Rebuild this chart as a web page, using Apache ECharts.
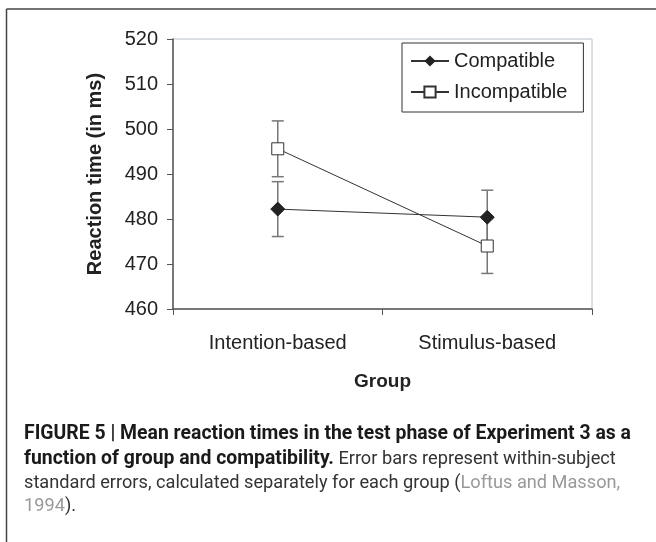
<!DOCTYPE html>
<html>
<head>
<meta charset="utf-8">
<script src="https://cdn.jsdelivr.net/npm/echarts@6/dist/echarts.min.js"></script>
<style>
html,body{margin:0;padding:0;background:#fff;}
#chart{width:656px;height:542px;}
</style>
</head>
<body>
<div id="chart"></div>
<script>
var categories = ['Intention-based', 'Stimulus-based'];
var seriesNames = ['Compatible', 'Incompatible'];
var compatible = [482.2, 480.4];
var incompatible = [495.6, 474.0];
var compatibleErr = [6.1, 6.0];
var incompatibleErr = [6.2, 6.1];
var yTicks = [460, 470, 480, 490, 500, 510, 520];

var chart = echarts.init(document.getElementById('chart'));

function errData(vals, errs) {
  return vals.map(function (v, i) { return [i, v - errs[i], v + errs[i]]; });
}

function renderErr(params, api) {
  var x = api.value(0);
  var lo = api.coord([x, api.value(1)]);
  var hi = api.coord([x, api.value(2)]);
  var hw = 6;
  var st = { stroke: '#777', lineWidth: 1.5 };
  return {
    type: 'group',
    children: [
      { type: 'line', shape: { x1: lo[0], y1: lo[1], x2: hi[0], y2: hi[1] }, style: st },
      { type: 'line', shape: { x1: lo[0] - hw, y1: lo[1], x2: lo[0] + hw, y2: lo[1] }, style: st },
      { type: 'line', shape: { x1: hi[0] - hw, y1: hi[1], x2: hi[0] + hw, y2: hi[1] }, style: st }
    ]
  };
}

var axFont = "'Liberation Sans', Arial, sans-serif";
var capFont = "Roboto, 'Liberation Sans', sans-serif";
var bSize = 19.4, nSize = 18.2;

var option = {
  animation: false,
  backgroundColor: '#fff',
  grid: { left: 173, top: 39, width: 419, height: 270, show: true, borderColor: '#b8c0c8', borderWidth: 1 },
  legend: {
    orient: 'vertical',
    left: 402, top: 43,
    width: 182,
    padding: [8, 16, 10, 8],
    itemGap: 11,
    itemWidth: 38, itemHeight: 14,
    borderColor: '#333', borderWidth: 1,
    backgroundColor: '#fff',
    textStyle: { fontFamily: axFont, fontSize: 20, color: '#222' },
    data: seriesNames
  },
  xAxis: {
    type: 'category',
    data: categories,
    boundaryGap: true,
    name: 'Group',
    nameLocation: 'middle',
    nameGap: 63,
    nameTextStyle: { fontFamily: axFont, fontSize: 19, fontWeight: 'bold', color: '#222' },
    axisLine: { lineStyle: { color: '#555', width: 1.5 } },
    axisTick: { show: true, length: 6, lineStyle: { color: '#555' } },
    axisLabel: { fontFamily: axFont, fontSize: 20, color: '#222', margin: 24 },
    splitLine: { show: false }
  },
  yAxis: {
    type: 'value',
    min: yTicks[0], max: yTicks[yTicks.length - 1], interval: 10,
    name: 'Reaction time (in ms)',
    nameLocation: 'middle',
    nameGap: 68,
    nameTextStyle: { fontFamily: axFont, fontSize: 20, fontWeight: 'bold', color: '#222' },
    axisLine: { show: true, lineStyle: { color: '#555', width: 1.5 } },
    axisTick: { show: true, inside: false, length: 6, lineStyle: { color: '#555' } },
    axisLabel: { fontFamily: axFont, fontSize: 20, color: '#222', margin: 15 },
    splitLine: { show: false }
  },
  series: [
    {
      type: 'custom', name: 'errC', renderItem: renderErr, data: errData(compatible, compatibleErr),
      z: 1, silent: true, encode: { x: 0, y: [1, 2] }
    },
    {
      type: 'custom', name: 'errI', renderItem: renderErr, data: errData(incompatible, incompatibleErr),
      z: 1, silent: true, encode: { x: 0, y: [1, 2] }
    },
    {
      name: seriesNames[0], type: 'line', data: compatible, z: 3,
      symbol: 'diamond', symbolSize: 14,
      lineStyle: { color: '#333', width: 1 },
      itemStyle: { color: '#222', borderColor: '#222' }
    },
    {
      name: seriesNames[1], type: 'line', data: incompatible, z: 3,
      symbol: 'rect', symbolSize: 12,
      lineStyle: { color: '#333', width: 1 },
      itemStyle: { color: '#fff', borderColor: '#333', borderWidth: 1 }
    }
  ],
  graphic: [
    { type: 'line', shape: { x1: 6.5, y1: 9, x2: 656, y2: 9 }, style: { stroke: '#444', lineWidth: 1.5 } },
    { type: 'line', shape: { x1: 6.5, y1: 9, x2: 6.5, y2: 542 }, style: { stroke: '#444', lineWidth: 1.5 } },
    {
      type: 'text', left: 24, top: 425,
      style: {
        text: '{b|FIGURE 5 | Mean reaction times in the test phase of Experiment 3 as a}',
        rich: { b: { fontFamily: capFont, fontSize: bSize, fontWeight: 'bold', fill: '#1a1a1a' } }
      }
    },
    {
      type: 'text', left: 24, top: 450,
      style: {
        text: '{b|function of group and compatibility.}{n| Error bars represent within-subject}',
        rich: {
          b: { fontFamily: capFont, fontSize: bSize, fontWeight: 'bold', fill: '#1a1a1a' },
          n: { fontFamily: capFont, fontSize: nSize, fill: '#333' }
        }
      }
    },
    {
      type: 'text', left: 24, top: 474,
      style: {
        text: '{n|standard errors, calculated separately for each group (}{g|Loftus and Masson,}',
        rich: {
          n: { fontFamily: capFont, fontSize: nSize, fill: '#333' },
          g: { fontFamily: capFont, fontSize: nSize, fill: '#999' }
        }
      }
    },
    {
      type: 'text', left: 24, top: 497,
      style: {
        text: '{g|1994}{n|).}',
        rich: {
          n: { fontFamily: capFont, fontSize: nSize, fill: '#333' },
          g: { fontFamily: capFont, fontSize: nSize, fill: '#999' }
        }
      }
    }
  ]
};
chart.setOption(option);
</script>
</body>
</html>
